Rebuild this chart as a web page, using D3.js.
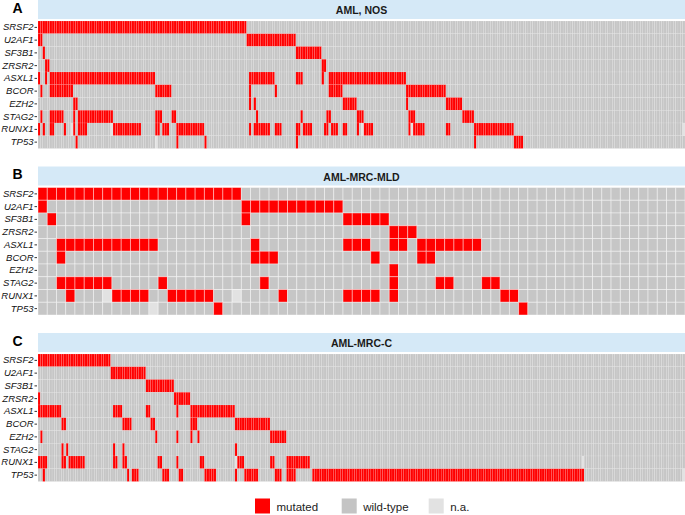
<!DOCTYPE html>
<html><head><meta charset="utf-8">
<script src="https://cdn.jsdelivr.net/npm/d3@7"></script>
<style>
body{margin:0;background:#fff;}
svg{display:block;font-family:"Liberation Sans",Arial,Helvetica,sans-serif;}
</style></head>
<body>
<svg id="chart" width="685" height="515"></svg>
<script>
// ---- data ----
const genes = ["SRSF2","U2AF1","SF3B1","ZRSR2","ASXL1","BCOR","EZH2","STAG2","RUNX1","TP53"];
const panelLetters = ["A","B","C"];
const panelTitles = ["AML, NOS","AML-MRC-MLD","AML-MRC-C"];
const patientCounts = [276, 70, 276];
const legendLabels = ["mutated","wild-type","n.a."];

// mutated runs per gene: [start, endExclusive] patient indices
const mutA = [
  [[0,89]],
  [[0,2],[89,110]],
  [[2,3],[110,121]],
  [[3,5],[121,123]],
  [[0,1],[3,4],[5,50],[90,101],[110,113],[121,122],[124,157]],
  [[1,2],[5,15],[50,57],[90,91],[101,102],[124,130],[157,174]],
  [[15,17],[90,91],[92,93],[130,136],[157,158],[174,181]],
  [[1,2],[5,11],[15,16],[17,32],[50,53],[57,59],[93,94],[112,113],[123,125],[136,139],[158,161],[181,186]],
  [[0,1],[2,3],[5,7],[11,12],[15,16],[17,21],[32,44],[50,52],[53,56],[59,71],[90,91],[92,93],[93,99],[101,104],[110,112],[113,117],[122,124],[125,128],[130,132],[136,137],[139,143],[158,159],[160,165],[174,176],[186,203]],
  [[16,17],[59,60],[71,72],[110,111],[186,187],[203,207]]
];
const naA = [[],[],[],[],[],[],[],[],[[14,15],[31,32],[138,139],[159,160],[275,276]],[[50,51]]];

const mutB = [
  [[0,22]],
  [[0,1],[22,33]],
  [[1,2],[22,23],[33,38]],
  [[38,41]],
  [[2,13],[23,24],[33,36],[38,40],[41,48]],
  [[2,3],[23,26],[36,37],[41,43]],
  [[38,39]],
  [[2,8],[13,14],[24,25],[38,39],[43,45],[48,50]],
  [[3,4],[8,12],[14,19],[26,27],[33,37],[38,39],[50,52]],
  [[19,20],[52,53]]
];
const naB = [[],[],[],[],[],[],[],[],[[7,8],[21,22]],[[12,13]]];

const mutC = [
  [[0,31]],
  [[31,46]],
  [[46,58]],
  [[0,1],[58,65]],
  [[0,10],[32,36],[46,48],[59,60],[65,84]],
  [[10,12],[36,40],[48,50],[65,68],[84,99]],
  [[1,2],[50,51],[59,60],[65,66],[68,69],[99,106]],
  [[10,11],[12,13],[32,33],[36,37],[84,85]],
  [[0,4],[10,12],[13,20],[32,34],[36,38],[51,53],[59,60],[69,71],[85,88],[99,101],[106,116]],
  [[2,3],[38,39],[40,43],[53,56],[60,62],[71,76],[84,85],[88,94],[101,104],[106,110],[117,233]]
];
const naC = [[],[],[],[],[],[],[],[],[[84,85],[232,233]],[[275,276]]];

const mutAll = [mutA, mutB, mutC];
const naAll = [naA, naB, naC];

// ---- drawing ----
const colors = {mut:"#FF0000", wt:"#C6C6C6", na:"#E2E2E2"};
const svg = d3.select("#chart");
const gridLeft = 38, gridRight = 685;
const panelTops = [0, 166.5, 333];
const bandH = 19, gridOffset = 21, gridH = 127.5;

panelTops.forEach((top, p) => {
  const n = patientCounts[p];
  const x = d3.scaleBand().domain(d3.range(n)).range([gridLeft, gridRight]).paddingInner(0);
  const y = d3.scaleBand().domain(genes).range([top + gridOffset, top + gridOffset + gridH]);

  const cells = [];
  genes.forEach((g, gi) => {
    const status = new Array(n).fill("wt");
    naAll[p][gi].forEach(([s, e]) => { for (let i = s; i < e; i++) status[i] = "na"; });
    mutAll[p][gi].forEach(([s, e]) => { for (let i = s; i < e; i++) status[i] = "mut"; });
    status.forEach((st, i) => cells.push({gene: g, i, st}));
  });

  const g = svg.append("g");
  g.append("rect").attr("x", gridLeft).attr("y", top).attr("width", gridRight - gridLeft).attr("height", bandH)
    .attr("fill", "#D5E9F7");
  g.append("text").attr("x", (gridLeft + gridRight) / 2).attr("y", top + 14)
    .attr("text-anchor", "middle").attr("font-weight", "bold").attr("font-size", "10.5px")
    .attr("fill", "#1a1a1a").text(panelTitles[p]);
  g.append("text").attr("x", 12.5).attr("y", top + 12.8)
    .attr("font-weight", "bold").attr("font-size", "14px").attr("fill", "#000").text(panelLetters[p]);

  const wide = p === 1;
  g.append("g").selectAll("rect").data(cells).join("rect")
    .attr("x", d => x(d.i)).attr("y", d => y(d.gene))
    .attr("width", x.bandwidth()).attr("height", y.bandwidth())
    .attr("fill", d => colors[d.st])
    .attr("stroke", "#ffffff")
    .attr("stroke-opacity", wide ? 0.45 : 0.22)
    .attr("stroke-width", wide ? 0.9 : 0.5);

  const ax = g.append("g").attr("transform", `translate(${gridLeft - 1},0)`)
    .call(d3.axisLeft(y).tickSize(2.5).tickPadding(1));
  ax.select(".domain").remove();
  ax.selectAll(".tick line").attr("stroke", "#333");
  ax.selectAll(".tick text").attr("font-size", "9.5px").attr("font-style", "italic")
    .attr("font-family", "\"Liberation Sans\",Arial,sans-serif").attr("fill", "#111");
});

// legend
const legX = [255, 341.7, 428.7];
const legCols = [colors.mut, "#C4C4C4", colors.na];
const lg = svg.append("g");
legendLabels.forEach((lab, i) => {
  lg.append("rect").attr("x", legX[i]).attr("y", 498.5).attr("width", 15).attr("height", 15).attr("fill", legCols[i]);
  lg.append("text").attr("x", legX[i] + 21.5).attr("y", 511).attr("font-size", "11.5px").attr("fill", "#222").text(lab);
});
</script>
</body></html>
